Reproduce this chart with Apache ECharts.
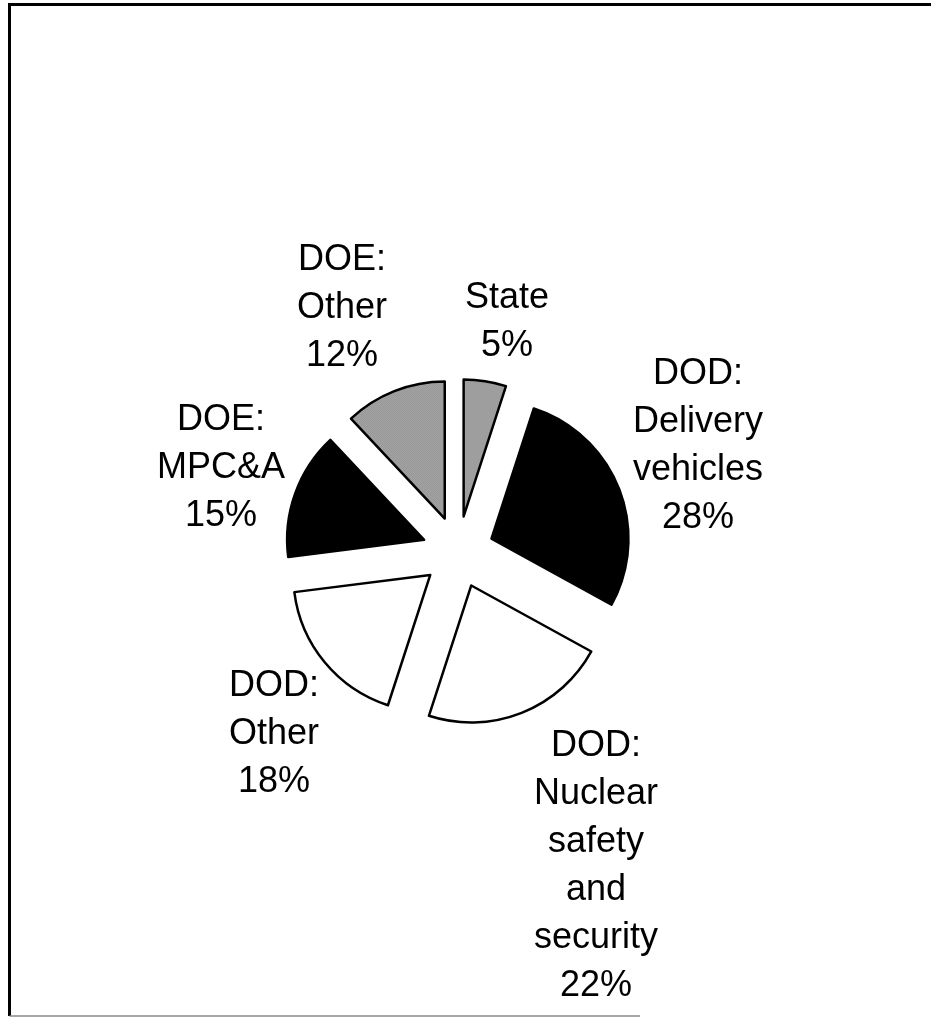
<!DOCTYPE html>
<html>
<head>
<meta charset="utf-8">
<script src="https://cdn.jsdelivr.net/npm/echarts@6/dist/echarts.min.js"></script>
<style>
html,body{margin:0;padding:0;background:#fff;}
#chart{width:931px;height:1021px;}
</style>
</head>
<body>
<div id="chart"></div>
<script>
// ---- data ----
var categories = ['State', 'DOD:\nDelivery\nvehicles', 'DOD:\nNuclear\nsafety\nand\nsecurity', 'DOD:\nOther', 'DOE:\nMPC&A', 'DOE:\nOther'];
var shares = [5, 28, 22, 18, 15, 12];

// ---- styles / layout ----
function makeStipple() {
  var c = document.createElement('canvas');
  c.width = 4; c.height = 4;
  var ctx = c.getContext('2d');
  ctx.fillStyle = '#ececec';
  ctx.fillRect(0, 0, 4, 4);
  ctx.fillStyle = '#505050';
  for (var y = 0; y < 4; y++) {
    for (var x = 0; x < 4; x++) {
      if ((x + y) % 2 === 0) ctx.fillRect(x, y, 1, 1);
    }
  }
  return c;
}
var stipple = {image: makeStipple(), repeat: 'repeat'};
var fills = [stipple, '#000000', '#ffffff', '#ffffff', '#000000', stipple];
var labelCenters = [[507, 322], [698, 446], [596, 866], [274, 734], [221, 468], [342, 308]];
var labelFont = '36px "Liberation Sans", Arial, sans-serif';

var chart = echarts.init(document.getElementById('chart'), null, {renderer: 'canvas'});

var data = categories.map(function (name, i) {
  return {
    name: name,
    value: shares[i],
    selected: true,
    itemStyle: {color: fills[i]}
  };
});

var labelTexts = categories.map(function (name, i) {
  return {
    type: 'text',
    silent: true,
    z: 10,
    style: {
      text: name + '\n' + shares[i] + '%',
      x: labelCenters[i][0],
      y: labelCenters[i][1],
      align: 'center',
      verticalAlign: 'middle',
      font: labelFont,
      lineHeight: 48,
      fill: '#000'
    }
  };
});

chart.setOption({
  animation: false,
  backgroundColor: '#ffffff',
  graphic: [
    {type: 'polyline', silent: true, shape: {points: [[931, 4.5], [9.5, 4.5], [9.5, 1016]]},
     style: {stroke: '#000', lineWidth: 3, fill: null}},
    {type: 'line', silent: true, shape: {x1: 9.5, y1: 1016, x2: 640, y2: 1016},
     style: {stroke: '#888', lineWidth: 1.5}}
  ].concat(labelTexts),
  series: [{
    type: 'pie',
    center: [458, 552],
    radius: 137,
    startAngle: 90,
    clockwise: true,
    selectedMode: 'multiple',
    selectedOffset: 36,
    avoidLabelOverlap: false,
    silent: true,
    emphasis: {disabled: true, scale: false},
    itemStyle: {borderColor: '#000', borderWidth: 2.5},
    select: {itemStyle: {borderColor: '#000', borderWidth: 2.5}},
    label: {show: false},
    labelLine: {show: false},
    data: data
  }]
});
</script>
</body>
</html>
